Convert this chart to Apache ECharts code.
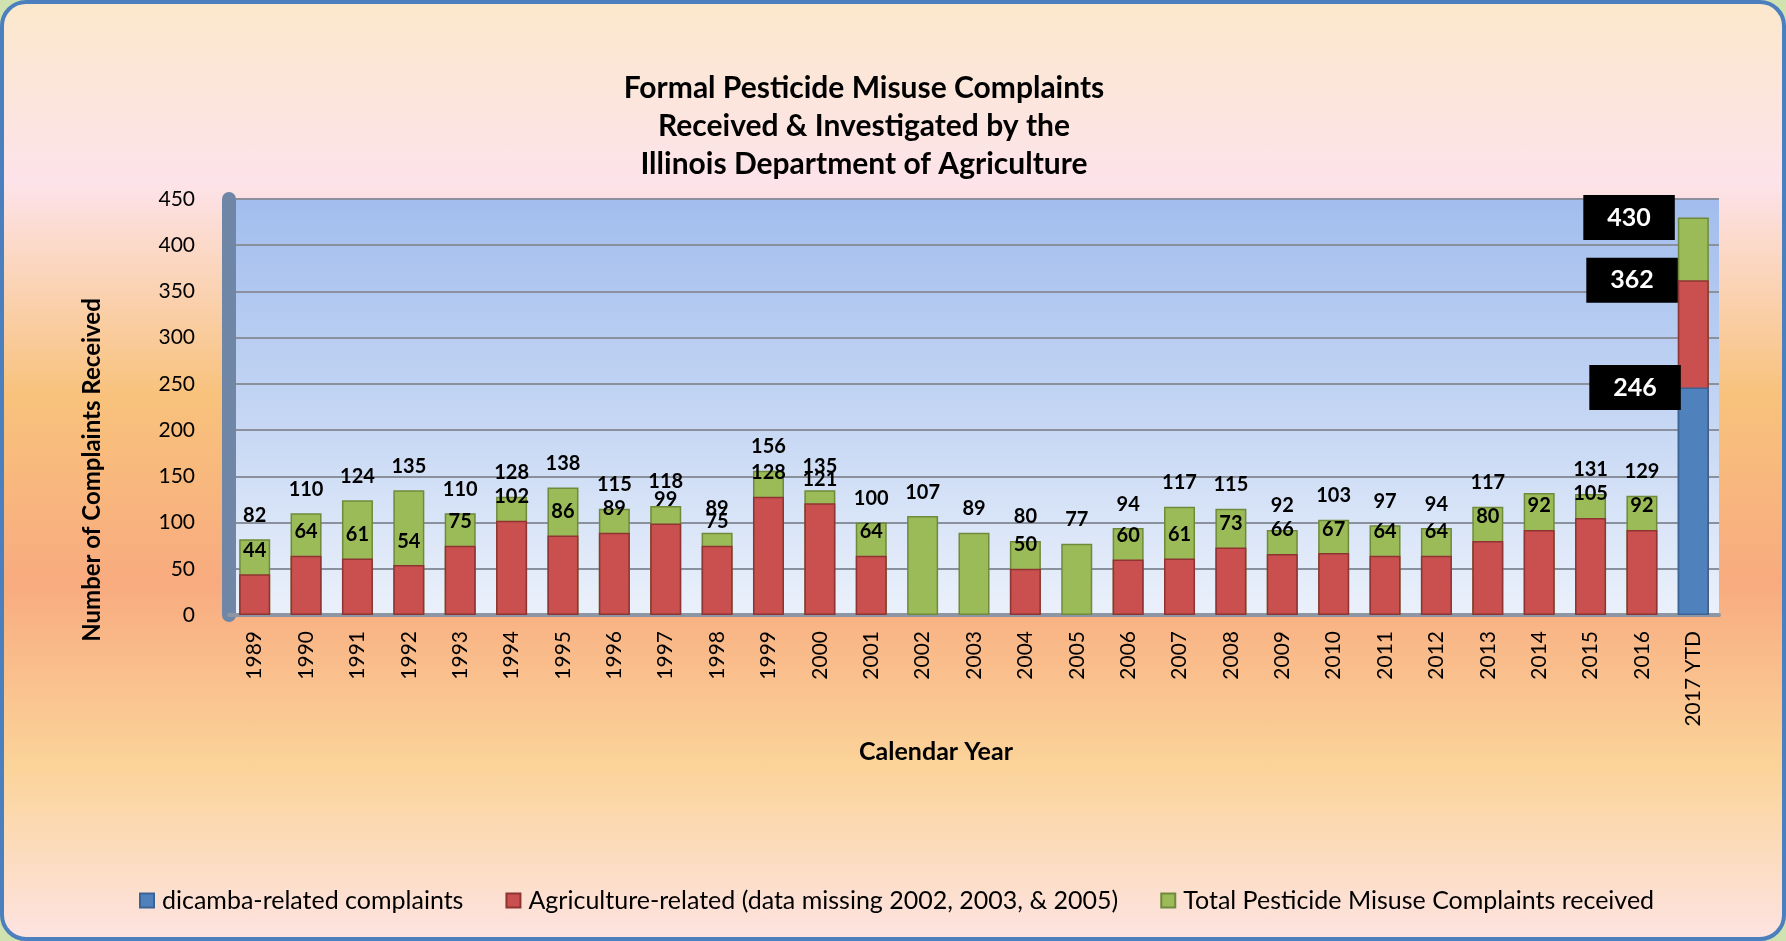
<!DOCTYPE html>
<html>
<head>
<meta charset="utf-8">
<script src="https://cdn.jsdelivr.net/npm/echarts@6/dist/echarts.min.js"></script>
<style>
html, body { margin: 0; padding: 0; background: #cfe2b0; }
#frame {
	width: 1786px; height: 941px; box-sizing: border-box;
	border: 4px solid #4b7fbd; border-radius: 26px; overflow: hidden;
	background: linear-gradient(to bottom, #fbe8cc 0%, #fde3ea 19%, #f8c27c 42%, #f8ab7f 62%, #fbd49a 82%, #fde3e1 100%);
}
#chart { width: 1778px; height: 933px; }
</style>
</head>
<body>
<div id="frame"><div id="chart"></div></div>
<script>
var categories = ['1989', '1990', '1991', '1992', '1993', '1994', '1995', '1996', '1997', '1998',
	'1999', '2000', '2001', '2002', '2003', '2004', '2005', '2006', '2007', '2008',
	'2009', '2010', '2011', '2012', '2013', '2014', '2015', '2016', '2017 YTD'];
// totals
var totalValues = [82, 110, 124, 135, 110, 128, 138, 115, 118, 89,
	156, 135, 100, 107, 89, 80, 77, 94, 117, 115,
	92, 103, 97, 94, 117, 132, 131, 129, 430];
// agriculture-related (no data 2002, 2003, 2005)
var agricultureValues = [44, 64, 61, 54, 75, 102, 86, 89, 99, 75,
	128, 121, 64, null, null, 50, null, 60, 61, 73,
	66, 67, 64, 64, 80, 92, 105, 92, 362];
// dicamba only counted for 2017
var dicambaValues = [null, null, null, null, null, null, null, null, null, null,
	null, null, null, null, null, null, null, null, null, null,
	null, null, null, null, null, null, null, null, 246];
var hiddenTotalLabels = ['2014'];
var boxedCategory = '2017 YTD';

var seriesNames = ['dicamba-related complaints',
	'Agriculture-related (data missing 2002, 2003, & 2005)',
	'Total Pesticide Misuse Complaints received'];

var byId = function(id) {
	return document.getElementById(id);
};

var boxLabel = function(dx) {
	return {
		show: true,
		position: [dx, 0],
		align: 'right',
		verticalAlign: 'middle',
		backgroundColor: '#000',
		color: '#fff',
		fontFamily: 'Lato',
		fontWeight: 'bold',
		fontSize: 25,
		lineHeight: 27,
		padding: [9, 24, 9, 24],
		distance: 0
	};
};

var buildData = function(values, dx, hidden) {
	return values.map(function(v, i) {
		if (v === null) return '-';
		if (categories[i] === boxedCategory) {
			return { value: v, label: boxLabel(dx) };
		}
		if (hidden && hidden.indexOf(categories[i]) >= 0) {
			return { value: v, label: { show: false } };
		}
		return v;
	});
};

var valueLabel = {
	show: true,
	position: 'top',
	distance: 14,
	color: '#000',
	fontFamily: 'Lato',
	fontWeight: 'bold',
	fontSize: 20
};

var chart = echarts.init(byId('chart'));
chart.setOption({
	textStyle: { fontFamily: 'Lato' },
	title: [{
		text: 'Formal Pesticide Misuse Complaints\nReceived & Investigated by the\nIllinois Department of Agriculture',
		left: 855,
		top: 60,
		textAlign: 'center',
		textStyle: { fontFamily: 'Lato', fontSize: 30, fontWeight: 'bold', lineHeight: 38, color: '#000' }
	}, {
		text: 'Calendar Year',
		left: 927,
		top: 730,
		textAlign: 'center',
		textStyle: { fontFamily: 'Lato', fontSize: 25, fontWeight: 'bold', color: '#000' }
	}],
	legend: {
		data: seriesNames,
		left: 130,
		top: 879,
		itemWidth: 14,
		itemHeight: 14,
		itemGap: 42,
		icon: 'rect',
		textStyle: { fontFamily: 'Lato', fontSize: 25, color: '#000', padding: [0, 0, 0, 3] }
	},
	grid: {
		left: 225,
		right: 63,
		top: 195,
		bottom: 322,
		show: true,
		borderWidth: 0,
		backgroundColor: new echarts.graphic.LinearGradient(0, 0, 0, 1, [
			{ offset: 0, color: '#a2bdee' },
			{ offset: 0.5, color: '#c3d5f3' },
			{ offset: 1, color: '#ebf1fb' }
		])
	},
	xAxis: {
		type: 'category',
		data: categories,
		axisTick: { show: false },
		axisLine: { lineStyle: { color: '#8d96a2', width: 4 } },
		axisLabel: { rotate: 90, margin: 16, fontSize: 21, color: '#000', fontFamily: 'Lato' }
	},
	yAxis: {
		type: 'value',
		min: 0,
		max: 450,
		interval: 50,
		axisLine: { show: true, lineStyle: { color: '#6f86a6', width: 14 } },
		axisTick: { show: false },
		axisLabel: { margin: 34, fontSize: 21, color: '#000', fontFamily: 'Lato' },
		splitLine: { lineStyle: { color: '#8a919d', width: 2 } },
		name: 'Number of Complaints Received',
		nameLocation: 'middle',
		nameGap: 125,
		nameTextStyle: { fontFamily: 'Lato', fontSize: 24, fontWeight: 'bold', color: '#000', padding: [0, 126, 0, 0] }
	},
	series: [{
		name: seriesNames[2],
		type: 'bar',
		barWidth: 31,
		barGap: '-100%',
		z: 2,
		data: buildData(totalValues, -3, hiddenTotalLabels),
		itemStyle: { color: '#9bbb59', borderColor: '#6f8a3a', borderWidth: 1.5 },
		label: valueLabel
	}, {
		name: seriesNames[1],
		type: 'bar',
		barWidth: 31,
		barGap: '-100%',
		z: 3,
		data: buildData(agricultureValues, 0),
		itemStyle: { color: '#c9504e', borderColor: '#8e3432', borderWidth: 1.5 },
		label: valueLabel
	}, {
		name: seriesNames[0],
		type: 'bar',
		barWidth: 31,
		barGap: '-100%',
		z: 4,
		data: buildData(dicambaValues, 3),
		itemStyle: { color: '#4f81bd', borderColor: '#3a6396', borderWidth: 1.5 },
		label: valueLabel
	}]
});
</script>
</body>
</html>
